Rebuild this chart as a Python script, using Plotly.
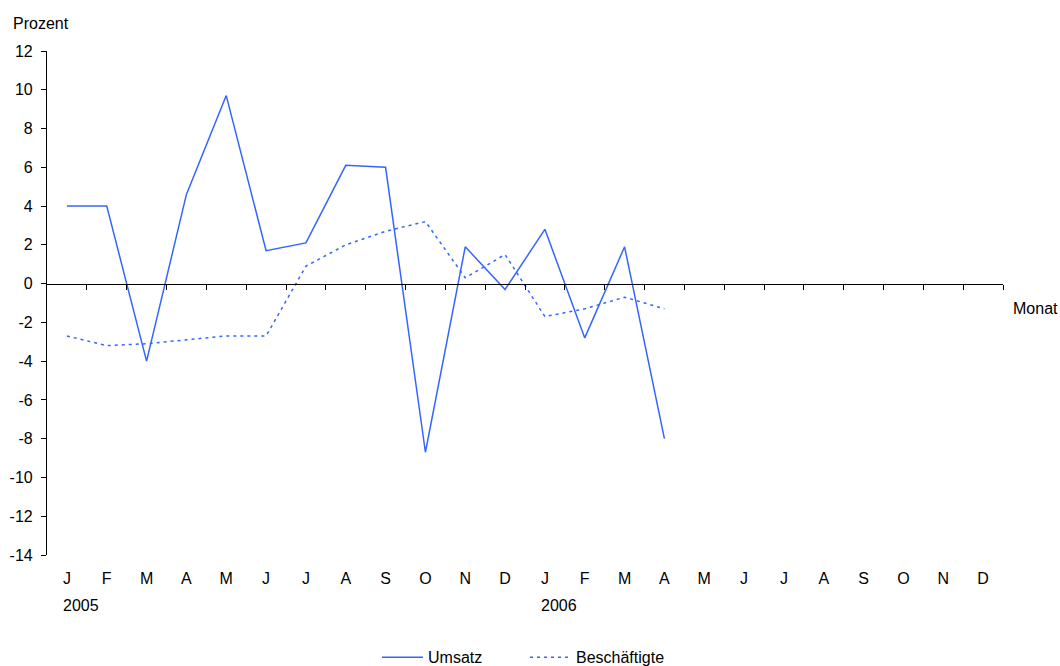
import plotly.graph_objects as go

months = ["J", "F", "M", "A", "M", "J", "J", "A", "S", "O", "N", "D",
          "J", "F", "M", "A", "M", "J", "J", "A", "S", "O", "N", "D"]
years = ["2005", "2006"]
year_pos = [0, 12]
y_ticks = [-14, -12, -10, -8, -6, -4, -2, 0, 2, 4, 6, 8, 10, 12]

umsatz = [4.0, 4.0, -4.0, 4.6, 9.7, 1.7, 2.1, 6.1, 6.0, -8.7, 1.9, -0.3,
          2.8, -2.8, 1.9, -8.0]
beschaeftigte = [-2.7, -3.2, -3.1, -2.9, -2.7, -2.7, 0.9, 2.0, 2.7, 3.2, 0.3, 1.5,
                 -1.7, -1.3, -0.7, -1.3]

x_idx = list(range(len(months)))
blue = "#3366ff"
font = "Liberation Sans, Arial, sans-serif"
fs = 16

fig = go.Figure()
fig.add_trace(go.Scatter(x=x_idx[:len(umsatz)], y=umsatz, mode="lines", name="Umsatz",
                         line=dict(color=blue, width=1.5)))
fig.add_trace(go.Scatter(x=x_idx[:len(beschaeftigte)], y=beschaeftigte, mode="lines",
                         name="Beschäftigte",
                         line=dict(color=blue, width=1.5, dash="3px,4px")))
# invisible trace for zero-line axis
fig.add_trace(go.Scatter(x=[x_idx[0]], y=[0], xaxis="x2", mode="markers",
                         marker=dict(opacity=0), showlegend=False, hoverinfo="skip"))

fig.update_layout(
    width=1060, height=666,
    margin=dict(l=47, r=57, t=51, b=111, autoexpand=False),
    paper_bgcolor="white", plot_bgcolor="white",
    font=dict(family=font, size=fs, color="black"),
    xaxis=dict(range=[-0.5, 23.5], tickmode="array", tickvals=x_idx, ticktext=months,
               showline=False, showgrid=False, zeroline=False, ticks="",
               ticklabelstandoff=12, tickfont=dict(size=fs), automargin=False),
    xaxis2=dict(range=[-0.5, 23.5], overlaying="x", anchor="free", position=14 / 26,
                side="bottom", showline=True, linecolor="black", linewidth=1.2,
                tickmode="array", tickvals=[i + 0.5 for i in x_idx],
                ticks="outside", ticklen=5, tickcolor="black", showticklabels=False,
                showgrid=False, zeroline=False),
    yaxis=dict(range=[-14, 12], tickmode="array", tickvals=y_ticks,
               ticktext=[str(v) for v in y_ticks],
               showline=True, linecolor="black", linewidth=1.2,
               ticks="outside", ticklen=5, tickcolor="black", showgrid=False,
               zeroline=False, tickfont=dict(size=fs), ticklabelstandoff=5,
               automargin=False),
    legend=dict(orientation="h", x=0.5, xanchor="center", y=-0.203, yanchor="middle",
                font=dict(size=fs), tracegroupgap=0, itemwidth=41,
                entrywidth=92, entrywidthmode="pixels"),
    showlegend=True,
)

for yr, pos in zip(years, year_pos):
    fig.add_annotation(x=pos, y=0, xref="x", yref="paper", text=yr, showarrow=False,
                       xanchor="left", yanchor="top", xshift=-6, yshift=-40,
                       font=dict(size=fs))

fig.add_annotation(x=0, y=1, xref="paper", yref="paper", text="Prozent", showarrow=False,
                   xanchor="left", yanchor="middle", xshift=-36, yshift=28,
                   font=dict(size=fs))
fig.add_annotation(x=1, y=14 / 26, xref="paper", yref="paper", text="Monat", showarrow=False,
                   xanchor="left", yanchor="middle", xshift=8, yshift=-25,
                   font=dict(size=fs))

fig.write_html("out.html",
               config={"displayModeBar": False},
               post_script="document.body.style.margin='0';"
                           "document.body.style.overflow='hidden';")
